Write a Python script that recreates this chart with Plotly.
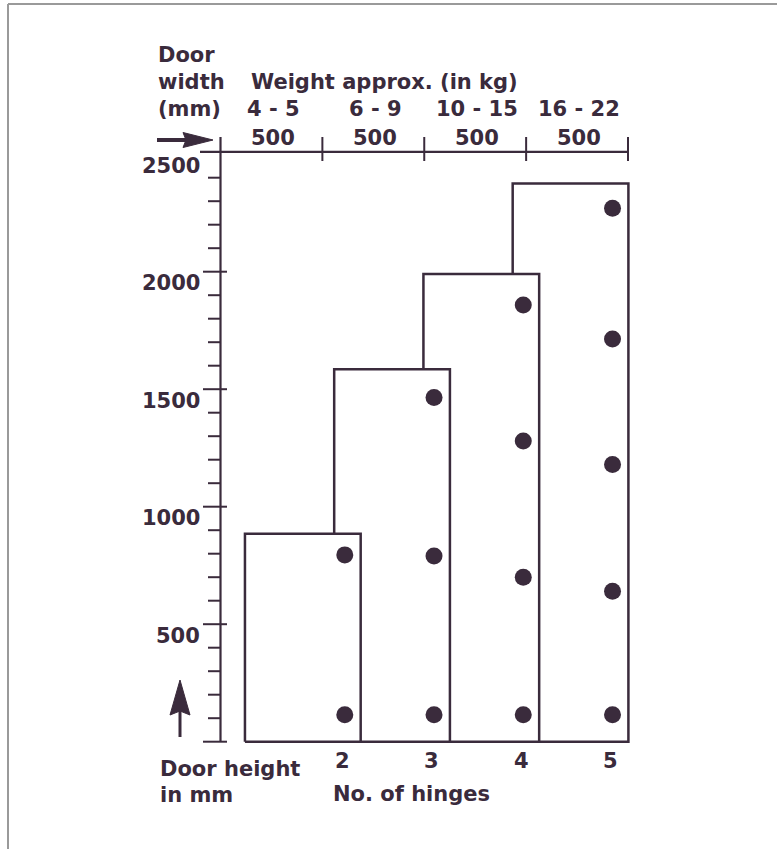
import plotly.graph_objects as go

# ---------------- data ----------------
hinges = [2, 3, 4, 5]
max_height = [885, 1585, 1990, 2375]          # door height limit per hinge count (mm)
hinge_heights = [                               # hinge positions (mm from floor)
    [115, 795],
    [115, 790, 1465],
    [115, 700, 1280, 1858],
    [115, 640, 1180, 1714, 2270],
]
weight_labels = ["4 - 5", "6 - 9", "10 - 15", "16 - 22"]
width_ticks = [0, 500, 1000, 1500, 2000]
width_labels = ["500", "500", "500", "500"]
height_major = [0, 500, 1000, 1500, 2000]
height_minor = [v for v in range(100, 2500, 100) if v % 500]
height_labels = [500, 1000, 1500, 2000, 2500]

# ---------------- styling / layout constants ----------------
INK = "#3a2b3c"
FONT = "DejaVu Sans"
FS = 21
W, H = 777, 849
X0_PX, XS = 220.5, 0.20375   # px of width 0, px per mm (horizontal)
Y0_PX, YS = 741.7, 0.235     # px of height 0, px per mm (vertical)


def xd(px):
    return (px - X0_PX) / XS


def yd(py):
    return (Y0_PX - py) / YS


RECT_LEFT0, RECT_STEP, RECT_W, DOT_OFF = 120, 438, 568, 490
TOP_Y = 2510

fig = go.Figure()

# rectangles (drawn right to left so the left ones overlap)
for i in reversed(range(len(hinges))):
    x0 = RECT_LEFT0 + i * RECT_STEP
    x1 = x0 + RECT_W
    h = max_height[i]
    fig.add_trace(go.Scatter(
        x=[x0, x1, x1, x0, x0], y=[0, 0, h, h, 0],
        mode="lines", fill="toself", fillcolor="white",
        line=dict(color=INK, width=2.5), hoverinfo="skip"))

# hinge dots
for i, hs in enumerate(hinge_heights):
    xc = RECT_LEFT0 + i * RECT_STEP + DOT_OFF
    fig.add_trace(go.Scatter(
        x=[xc] * len(hs), y=hs, mode="markers",
        marker=dict(size=17, color=INK), hoverinfo="skip"))

# vertical (height) axis
fig.add_trace(go.Scatter(x=[0, 0], y=[0, yd(137)], mode="lines",
                         line=dict(color=INK, width=2.2), hoverinfo="skip"))
tx, ty = [], []
for v in height_minor:
    tx += [xd(208), 0, None]
    ty += [v, v, None]
for v in height_major:
    tx += [xd(203), xd(227), None]
    ty += [v, v, None]
fig.add_trace(go.Scatter(x=tx, y=ty, mode="lines",
                         line=dict(color=INK, width=2), hoverinfo="skip"))

# top (width) axis
fig.add_trace(go.Scatter(x=[xd(200), width_ticks[-1]], y=[TOP_Y, TOP_Y], mode="lines",
                         line=dict(color=INK, width=2.2), hoverinfo="skip"))
tx, ty = [], []
for v in width_ticks[1:]:
    tx += [v, v, None]
    ty += [yd(137), yd(161), None]
fig.add_trace(go.Scatter(x=tx, y=ty, mode="lines",
                         line=dict(color=INK, width=2), hoverinfo="skip"))

# arrows
fig.add_trace(go.Scatter(x=[xd(157), xd(190)], y=[yd(140), yd(140)], mode="lines",
                         line=dict(color=INK, width=4), hoverinfo="skip"))
fig.add_trace(go.Scatter(x=[xd(183), xd(213), xd(183), xd(186), xd(183)],
                         y=[yd(132.5), yd(140), yd(147.5), yd(140), yd(132.5)],
                         mode="lines", fill="toself", fillcolor=INK,
                         line=dict(color=INK, width=1), hoverinfo="skip"))
fig.add_trace(go.Scatter(x=[xd(180), xd(180)], y=[yd(737), yd(705)], mode="lines",
                         line=dict(color=INK, width=3), hoverinfo="skip"))
fig.add_trace(go.Scatter(x=[xd(170), xd(180), xd(190), xd(180), xd(170)],
                         y=[yd(715), yd(680), yd(715), yd(711), yd(715)],
                         mode="lines", fill="toself", fillcolor=INK,
                         line=dict(color=INK, width=1), hoverinfo="skip"))

ann = []


def txt(x, y, s, anchor="center"):
    ann.append(dict(x=x, y=y, xref="x", yref="y", text="<b>%s</b>" % s,
                    showarrow=False, xanchor=anchor, yanchor="middle",
                    font=dict(family=FONT, size=FS, color=INK)))


# height tick labels
for v in height_labels:
    txt(xd(202), v - 50, str(v), "right")

# top labels
mids = [(width_ticks[k] + width_ticks[k + 1]) / 2 + 10 for k in range(len(width_labels))]
for m, s in zip(mids, width_labels):
    txt(m, yd(138), s)
for m, s in zip(mids, weight_labels):
    txt(m, yd(109), s)
txt(xd(249), yd(82), "Weight approx. (in kg)", "left")
txt(xd(156), yd(55), "Door", "left")
txt(xd(156), yd(82), "width", "left")
txt(xd(156), yd(109), "(mm)", "left")

# bottom labels
for i, n in enumerate(hinges):
    txt(RECT_LEFT0 + i * RECT_STEP + DOT_OFF - 10, yd(761), str(n))
txt(xd(331), yd(794), "No. of hinges", "left")
txt(xd(158), yd(769), "Door height", "left")
txt(xd(158), yd(795), "in mm", "left")

fig.update_layout(
    width=W, height=H,
    margin=dict(l=0, r=0, t=0, b=0),
    paper_bgcolor="white", plot_bgcolor="white",
    showlegend=False,
    xaxis=dict(visible=False, range=[xd(0), xd(W)], fixedrange=True),
    yaxis=dict(visible=False, range=[yd(H), yd(0)], fixedrange=True),
    annotations=ann,
    shapes=[
        dict(type="line", xref="paper", yref="paper", x0=8 / W, x1=1, y0=1 - 4 / H, y1=1 - 4 / H,
             line=dict(color="#9a9a9a", width=2)),
        dict(type="line", xref="paper", yref="paper", x0=8 / W, x1=8 / W, y0=0, y1=1 - 4 / H,
             line=dict(color="#9a9a9a", width=2)),
    ],
)

fig.write_html("out.html", config={"displayModeBar": False},
               post_script="document.body.style.margin='0';document.body.style.overflow='hidden';")
